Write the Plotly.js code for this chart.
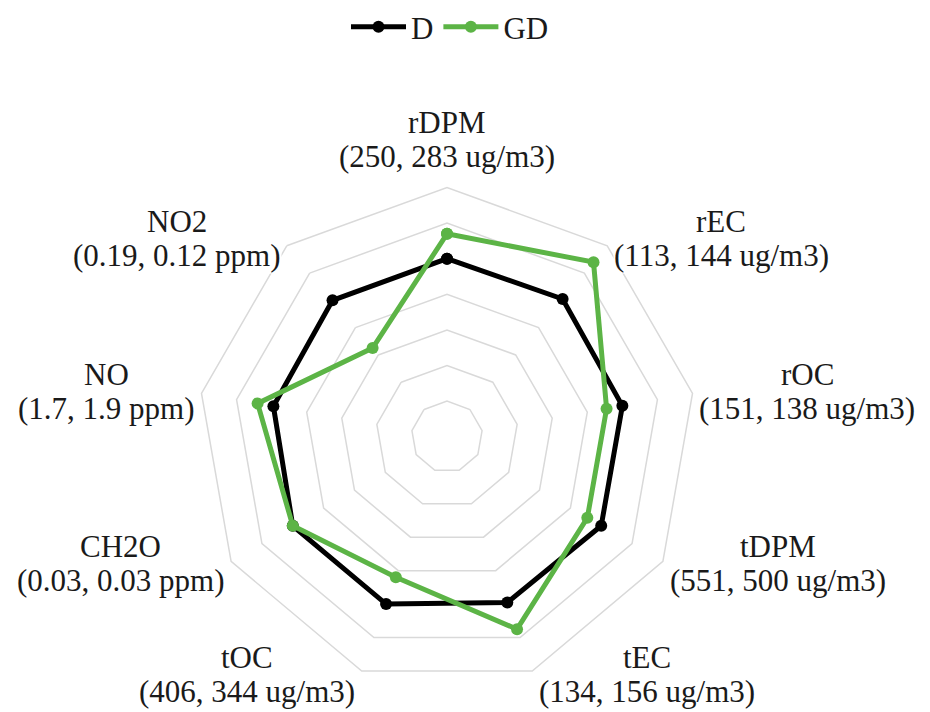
<!DOCTYPE html>
<html>
<head>
<meta charset="utf-8">
<script src="https://cdn.plot.ly/plotly-3.0.1.min.js"></script>
<style>html,body{margin:0;padding:0;background:#fff;}#chart{width:930px;height:712px;}</style>
</head>
<body>
<div id="chart"></div>
<script>
// Categories and their label text (D value, GD value, unit)
var categories = ['rDPM', 'rEC', 'rOC', 'tDPM', 'tEC', 'tOC', 'CH2O', 'NO', 'NO2'];
var valueLabels = ['(250, 283 ug/m3)', '(113, 144 ug/m3)', '(151, 138 ug/m3)', '(551, 500 ug/m3)',
                   '(134, 156 ug/m3)', '(406, 344 ug/m3)', '(0.03, 0.03 ppm)', '(1.7, 1.9 ppm)', '(0.19, 0.12 ppm)'];
// Normalised values (D = reference)
var dValues  = [1.00, 1.01, 1.00, 1.00, 0.99, 1.00, 1.00, 0.99, 1.00];
var gdValues = [1.14, 1.28, 0.91, 0.91, 1.15, 0.84, 1.00, 1.08, 0.65];

var W = 930, H = 712;
var FONT = '"Liberation Serif", "Times New Roman", serif';
var FS = 31;
var TXT = '#1a1a1a';
var domX = [197 / W, 697 / W], domY = [26 / H, 526 / H];

function closeLoop(a){ return a.concat([a[0]]); }

var traces = [
  {type:'scatterpolar', mode:'lines+markers', name:'D',
   r: closeLoop(dValues), theta: closeLoop(categories),
   line:{color:'#000000', width:5}, marker:{color:'#000000', size:12}},
  {type:'scatterpolar', mode:'lines+markers', name:'GD',
   r: closeLoop(gdValues), theta: closeLoop(categories),
   line:{color:'#5cb446', width:5}, marker:{color:'#5cb446', size:12}}
];

// Category labels placed just outside the outer ring, from the polar geometry
var canvas = document.createElement('canvas');
var ctx = canvas.getContext('2d');
ctx.font = FS + 'px "Liberation Serif"';
var cx = (domX[0] + domX[1]) / 2 * W;
var cy = H - (domY[0] + domY[1]) / 2 * H;
var R = (domX[1] - domX[0]) * W / 2;
var HALF = 17.2;
var annotations = [];
categories.forEach(function(name, i){
  var th = (90 - 360 / categories.length * i) * Math.PI / 180;
  var c = Math.cos(th), s = Math.sin(th);
  var vx = cx + R * c, vy = cy - R * s;
  var w = Math.max(ctx.measureText(name).width, ctx.measureText(valueLabels[i]).width);
  var xc, yc;
  if (Math.abs(c) < 0.1) { xc = vx; yc = vy - 48; }
  else { xc = vx + (c > 0 ? 1 : -1) * (6 + w / 2); yc = vy - (s > 0 ? 10 : 4) * s; }
  [[name, yc - HALF], [valueLabels[i], yc + HALF]].forEach(function(p){
    annotations.push({xref:'paper', yref:'paper', x: xc / W, y: 1 - p[1] / H,
      xanchor:'center', yanchor:'middle', showarrow:false, text:p[0],
      bgcolor:'#ffffff', borderpad:0,
      font:{family:FONT, size:FS, color:TXT}});
  });
});

var layout = {
  width:W, height:H,
  margin:{l:0, r:0, t:0, b:0},
  paper_bgcolor:'#ffffff',
  font:{family:FONT, size:FS, color:TXT},
  showlegend:true,
  legend:{orientation:'h', x:450 / W, xanchor:'center', y:1 - 25 / H, yanchor:'middle',
          itemwidth:55, font:{family:FONT, size:FS, color:TXT}},
  polar:{
    domain:{x:domX, y:domY},
    bgcolor:'#ffffff',
    gridshape:'linear',
    radialaxis:{range:[0,1.4], dtick:0.2, showticklabels:false, ticks:'', showline:false,
                gridcolor:'#d9d9d9', gridwidth:1.5},
    angularaxis:{direction:'clockwise', rotation:90, showgrid:false, ticks:'',
                 showticklabels:false, showline:true, linecolor:'#d9d9d9', linewidth:1.5}
  },
  annotations: annotations
};

Plotly.newPlot('chart', traces, layout, {displayModeBar:false, staticPlot:true});
</script>
</body>
</html>
